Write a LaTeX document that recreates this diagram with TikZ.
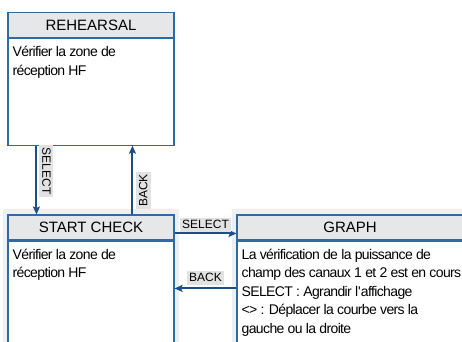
\documentclass[tikz,border=0pt]{standalone}
\usepackage{fontspec}
\setmainfont{Liberation Sans}
\newfontfamily\tightfont[LetterSpace=-4.5]{Liberation Sans}
\usetikzlibrary{arrows.meta,positioning,backgrounds}
\definecolor{frameblue}{HTML}{2F6AA0}
\definecolor{arrowblue}{HTML}{1B4F85}
\definecolor{headgray}{HTML}{E6E7E8}
\definecolor{taggray}{HTML}{E2E2E2}
\definecolor{halogray}{HTML}{EEEFF1}

\begin{document}
\begin{tikzpicture}[
  x=1pt, y=-1pt,
  >={Stealth[length=8pt,width=7pt,inset=1.5pt]},
  head/.style={draw=frameblue, fill=headgray, line width=1.1pt, minimum width=166pt,
               minimum height=25pt, inner sep=0pt, font=\fontsize{15}{18}\selectfont},
  frame/.style={draw=frameblue, fill=white, line width=1.1pt, minimum width=166pt, inner sep=0pt},
  bodytext/.style={anchor=north west, align=left, inner xsep=5pt, inner ysep=8pt,
                   font=\tightfont\fontsize{14}{18.5}\selectfont},
  flow/.style={->, draw=arrowblue, line width=2pt},
  tag/.style={fill=taggray, inner xsep=2.5pt, inner ysep=2pt, text height=9pt,
              text depth=1.5pt, font=\fontsize{12}{14}\selectfont}
]
  \useasboundingbox (0,0) rectangle (462,341);

  % top box
  \node[head] (rehearsal) at (91,25) {REHEARSAL};
  \node[frame, minimum height=106.5pt, below=0pt of rehearsal] (rehearsalbox) {};
  \node[bodytext] at (rehearsalbox.north west) {Vérifier la zone de\\réception HF};

  % bottom row
  \node[head] (startcheck) at (91,227.5) {START CHECK};
  \node[frame, minimum height=120pt, below=0pt of startcheck] (startcheckbox) {};
  \node[bodytext] at (startcheckbox.north west) {Vérifier la zone de\\réception HF};

  \node[head, minimum width=226pt] (graph) at (350,227.5) {GRAPH};
  \node[frame, minimum width=226pt, minimum height=120pt, below=0pt of graph] (graphbox) {};
  \node[bodytext] at (graphbox.north west)
    {La vérification de la puissance de\\champ des canaux 1 et 2 est en cours\\
     SELECT : Agrandir l\textquotesingle affichage\\<> : Déplacer la courbe vers la\\
     gauche ou la droite};

  \begin{scope}[on background layer]
    \fill[halogray] ([shift={(-4pt,5pt)}]startcheck.north west) rectangle ([xshift=4pt]startcheckbox.south east);
    \fill[halogray] ([shift={(-4pt,5pt)}]graph.north west) rectangle ([xshift=4pt]graphbox.south east);
  \end{scope}

  \draw[flow] ([xshift=29pt]rehearsalbox.south west) --
    node[tag, pos=0.37, anchor=south, outer sep=2.5pt, rotate=-90] {SELECT}
    ([xshift=29pt]startcheck.north west);
  \draw[flow] ([xshift=125pt]startcheck.north west) --
    node[tag, pos=0.35, anchor=north, outer sep=4pt, rotate=90] {BACK}
    ([xshift=125pt]rehearsalbox.south west);
  \draw[flow] ([yshift=-19pt]startcheck.north east) --
    node[tag, above, outer sep=1pt] {SELECT} ([yshift=-19pt]graph.north west);
  \draw[flow] ([yshift=-74pt]graph.north west) --
    node[tag, above, outer sep=3pt] {BACK} ([yshift=-74pt]startcheck.north east);
\end{tikzpicture}
\end{document}
